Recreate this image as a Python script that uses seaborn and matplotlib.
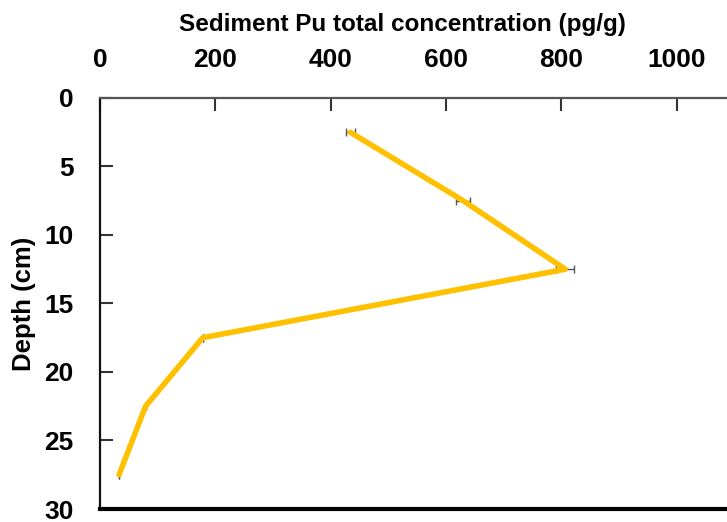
import matplotlib
matplotlib.use("Agg")
import matplotlib.pyplot as plt
import seaborn as sns
import pandas as pd

# Sediment core profile: mid-depth of each slice and total Pu concentration
depth_cm = [2.5, 7.5, 12.5, 17.5, 22.5, 27.5]
pu_conc = [434, 630, 807, 178, 79, 33]
pu_err = [8, 12, 16, 0, 0, 0]

x_ticks = [0, 200, 400, 600, 800, 1000]
y_ticks = [0, 5, 10, 15, 20, 25, 30]

sns.set_theme(style="white")
plt.rcParams["font.family"] = ["Liberation Sans", "DejaVu Sans"]
plt.rcParams["font.weight"] = "bold"
plt.rcParams["text.color"] = "black"
plt.rcParams["axes.labelcolor"] = "black"
plt.rcParams["xtick.color"] = "black"
plt.rcParams["ytick.color"] = "black"

df = pd.DataFrame({"depth": depth_cm, "conc": pu_conc, "err": pu_err})

fig = plt.figure(figsize=(7.27, 5.22), dpi=100)
ax = fig.add_axes([0.1376, 0.0249, 0.8624, 0.7874])

sns.lineplot(data=df, x="conc", y="depth", sort=False, color="#FFC000",
             linewidth=4.0, ax=ax, zorder=3)
ax.errorbar(df["conc"], df["depth"], xerr=df["err"], fmt="none",
            ecolor="#555555", elinewidth=1.0, capsize=3, capthick=1.0, zorder=2)

ax.set_xlim(0, 1087.6)
ax.set_ylim(30, 0)
ax.xaxis.tick_top()
ax.xaxis.set_label_position("top")
ax.set_xticks(x_ticks)
ax.set_yticks(y_ticks)
ax.tick_params(axis="x", direction="in", length=9, width=1.5, color="#333333",
               labelcolor="black", pad=19, labelsize=19)
ax.tick_params(axis="y", direction="in", length=9, width=1.5, color="#333333",
               labelcolor="black", pad=19, labelsize=19, left=True)
for lbl in ax.get_xticklabels() + ax.get_yticklabels():
    lbl.set_fontweight("bold")

ax.set_xlabel("Sediment Pu total concentration (pg/g)", fontsize=17.5,
              fontweight="bold", color="black")
ax.xaxis.set_label_coords(0.483, 1.164)
ax.set_ylabel("Depth (cm)", fontsize=18.5, fontweight="bold", labelpad=6,
              color="black")

ax.spines["right"].set_visible(False)
ax.spines["top"].set_color("#555555")
ax.spines["top"].set_linewidth(1.6)
ax.spines["left"].set_color("#111111")
ax.spines["left"].set_linewidth(1.6)
ax.spines["bottom"].set_color("black")
ax.spines["bottom"].set_linewidth(3.0)

fig.savefig("out.png", dpi=100)
